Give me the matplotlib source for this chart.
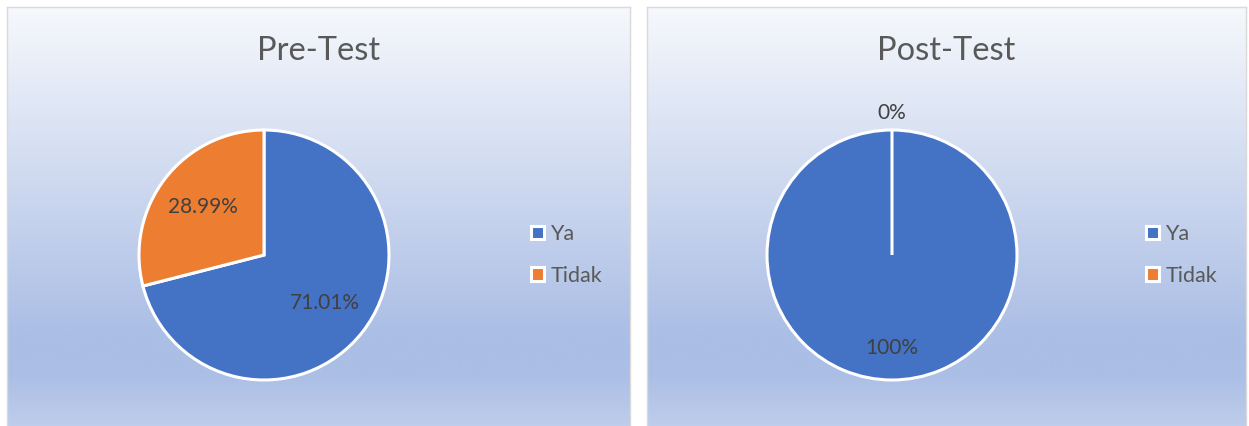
import matplotlib.pyplot as plt
import numpy as np
from matplotlib.colors import LinearSegmentedColormap

# data
categories = ["Ya", "Tidak"]
titles = ["Pre-Test", "Post-Test"]
pre_values = [71.01, 28.99]
post_values = [100, 0]
pre_labels = ["71.01%", "28.99%"]
post_labels = ["100%", "0%"]
colors = ["#4472C4", "#ED7D31"]

W, H = 1249, 426
plt.rcParams['font.family'] = ['Lato', 'DejaVu Sans']
fig = plt.figure(figsize=(W / 100, H / 100), dpi=100)

bg_cmap = LinearSegmentedColormap.from_list(
    "bg", [(0, "#F6F8FC"), (0.74, "#ABBEE5"), (0.83, "#ABBEE5"), (1, "#C7D4ED")])


def px_axes(x0, y0, x1, y1):
    # axes from pixel box (top-left origin)
    return fig.add_axes([x0 / W, 1 - y1 / H, (x1 - x0) / W, (y1 - y0) / H])


def draw_panel(x0, x1, cx, lx, title, values, labels, dists):
    bga = px_axes(x0, 7, x1, 450)
    grad = np.linspace(0, 1, 256).reshape(-1, 1)
    bga.imshow(grad, cmap=bg_cmap, aspect='auto', extent=(0, 1, 0, 1), origin='upper')
    bga.set_xticks([])
    bga.set_yticks([])
    for s in bga.spines.values():
        s.set_color('#D9D9D9')
        s.set_linewidth(1)

    fig.text((x0 + x1) / 2 / W, 1 - 51 / H, title, ha='center', va='center',
             fontsize=23.5, color='#595959')

    ax = px_axes(cx - 125, 130, cx + 125, 380)
    wedges, _ = ax.pie(values, colors=colors, startangle=90, counterclock=False,
                       wedgeprops=dict(edgecolor='white', linewidth=2.2))
    ax.set_xlim(-1, 1)
    ax.set_ylim(-1, 1)
    for w, lbl, d in zip(wedges, labels, dists):
        t = np.deg2rad((w.theta1 + w.theta2) / 2)
        ax.text(d * np.cos(t), d * np.sin(t), lbl, ha='center', va='center',
                fontsize=15, color='#404040')

    fig.legend(wedges, categories, loc='center left', bbox_to_anchor=(lx / W, 1 - 255 / H),
               frameon=False, fontsize=15.5, handlelength=0.6, handleheight=0.6,
               handletextpad=0.3, labelspacing=1.0, borderpad=0, borderaxespad=0,
               labelcolor='#595959')


draw_panel(7, 630, 264, 531, titles[0], pre_values, pre_labels, [0.62, 0.62])
draw_panel(647, 1246, 892, 1146, titles[1], post_values, post_labels, [0.74, 1.14])

fig.savefig("out.png", dpi=100)
